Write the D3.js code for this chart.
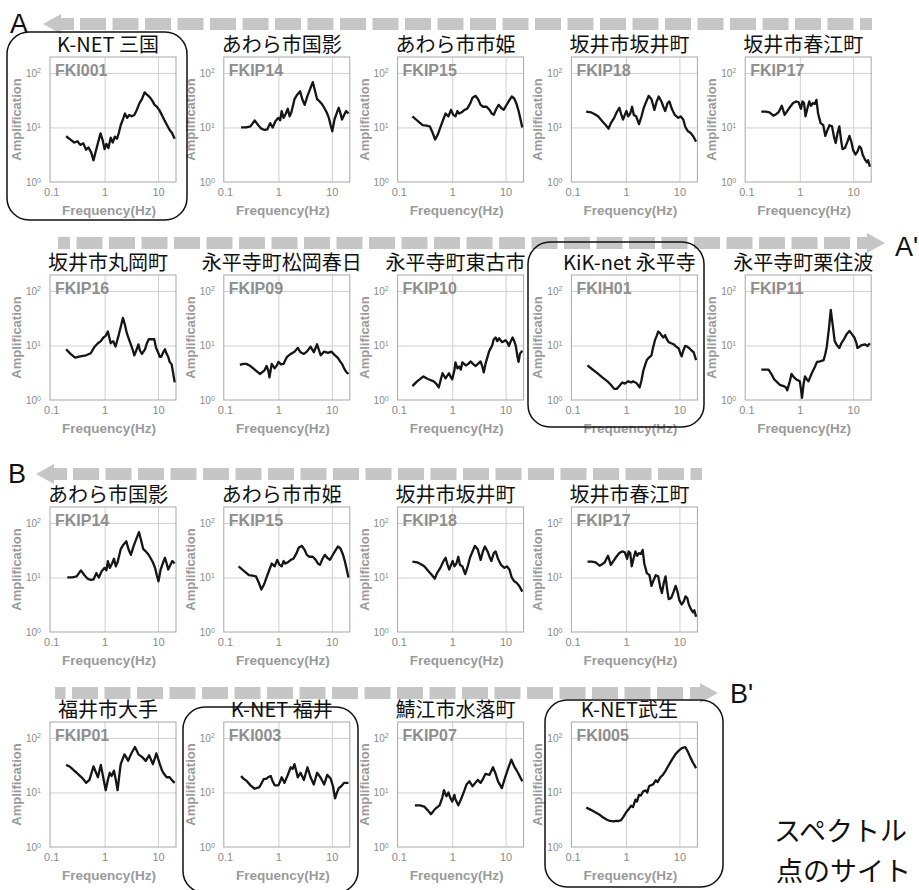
<html>
<head>
  <script src="https://d3js.org/d3.v7.min.js"></script>
  <style>
    body { margin: 0; background: #fff; }
    .grid line { stroke: #d0d0d0; }
    .grid .domain { display: none; }
    .lbl .domain { display: none; }
    .lbl text { fill: #8a8a8a; font-family: "Liberation Sans", Arial, sans-serif; }
  </style>
</head>
<body>
  <svg id="fig" width="919" height="890"></svg>
  <script>
    // tick values
    const freqTicks = [0.1, 1, 10];
    const ampTicks = [1, 10, 100];

    // site names and station codes, one list per row
    const row1Titles = ["K-NET 三国", "あわら市国影", "あわら市市姫", "坂井市坂井町", "坂井市春江町"];
    const row1Ids = ["FKI001", "FKIP14", "FKIP15", "FKIP18", "FKIP17"];
    const row2Titles = ["坂井市丸岡町", "永平寺町松岡春日", "永平寺町東古市", "KiK-net 永平寺", "永平寺町栗住波"];
    const row2Ids = ["FKIP16", "FKIP09", "FKIP10", "FKIH01", "FKIP11"];
    const row3Titles = ["あわら市国影", "あわら市市姫", "坂井市坂井町", "坂井市春江町"];
    const row3Ids = ["FKIP14", "FKIP15", "FKIP18", "FKIP17"];
    const row4Titles = ["福井市大手", "K-NET 福井", "鯖江市水落町", "K-NET武生"];
    const row4Ids = ["FKIP01", "FKI003", "FKIP07", "FKI005"];

    // amplification curves [frequency Hz, amplification]
    const FKI001 = [[0.19,6.9],[0.23,6.0],[0.27,5.3],[0.31,5.6],[0.35,4.8],[0.4,5.1],[0.45,3.9],[0.5,4.3],[0.56,3.5],[0.62,2.5],[0.68,3.6],[0.75,5.2],[0.84,7.8],[0.92,5.8],[1.0,4.0],[1.08,5.0],[1.18,4.2],[1.3,6.5],[1.42,5.3],[1.55,6.8],[1.7,6.2],[1.85,8.0],[2.0,11],[2.2,14],[2.4,18],[2.65,15],[2.9,17],[3.2,16],[3.6,17],[4.0,21],[4.5,28],[5.0,33],[5.6,44],[6.2,40],[7.0,36],[7.8,31],[8.6,26],[9.5,24],[10.5,21],[11.8,17],[13.2,13.5],[14.8,11],[16.5,9],[18.2,8],[20.5,6.2]];
    const FKIP14 = [[0.2,10],[0.25,10],[0.3,10.5],[0.36,13.5],[0.42,11],[0.48,9.5],[0.55,9],[0.62,9.2],[0.7,12],[0.78,10],[0.88,13],[1.0,15],[1.08,13.5],[1.15,20],[1.25,15],[1.38,18],[1.5,22],[1.62,16],[1.75,19],[2.0,33],[2.25,40],[2.55,46],[2.8,33],[3.1,26],[3.5,38],[3.9,50],[4.4,68],[4.9,45],[5.3,33],[5.9,30],[6.5,27],[7.2,23],[8.0,19],[8.8,15],[9.5,11],[10.2,8.5],[11.2,14],[12.5,19],[13.5,23],[14.5,18],[15.5,14],[17,17],[18.5,20],[20.5,18]];
    const FKIP15 = [[0.18,16],[0.21,14],[0.24,12.5],[0.28,11],[0.33,10.8],[0.38,10.5],[0.43,8],[0.48,6],[0.54,7.5],[0.6,10],[0.68,14],[0.75,18],[0.85,16],[0.95,21],[1.05,17],[1.15,16],[1.25,20],[1.35,18],[1.5,19],[1.7,21],[1.9,22],[2.15,27],[2.4,35],[2.75,38],[3.1,32],[3.4,26],[3.8,24],[4.4,24],[5.0,21],[5.5,18],[6.0,17],[6.7,22],[7.4,26],[8.2,23],[9.2,21],[10.2,25],[11.4,30],[13,37],[14.5,34],[16,27],[17.5,20],[19,14],[20.5,10]];
    const FKIP18 = [[0.18,19.5],[0.22,19],[0.26,17.5],[0.3,16],[0.36,13],[0.42,11],[0.47,9.5],[0.52,12],[0.6,15],[0.67,19],[0.75,23],[0.82,17],[0.88,14],[0.95,17],[1.02,20],[1.1,16],[1.2,18],[1.3,24],[1.4,17],[1.55,16],[1.75,11.5],[1.95,16],[2.15,23],[2.4,30],[2.65,38],[3.0,33],[3.4,21],[3.75,30],[4.1,37],[4.6,30],[5.0,24],[5.4,20],[6.0,28],[6.5,30],[7.2,22],[8.2,17],[9.5,15],[10.5,16],[11.8,14],[13,10],[14.5,8.5],[16,8],[18,7],[20.5,5.5]];
    const FKIP17 = [[0.19,19.5],[0.23,19.5],[0.27,19],[0.32,16.5],[0.36,17.5],[0.4,19],[0.46,25],[0.52,17],[0.58,20],[0.66,24],[0.75,28],[0.85,30],[0.95,29],[1.05,22],[1.12,30],[1.2,28],[1.28,16],[1.38,22],[1.5,30],[1.62,25],[1.75,28],[1.9,27],[2.05,32],[2.2,18],[2.45,12],[2.75,11],[3.0,7],[3.3,9],[3.6,11],[4.0,10.5],[4.4,6.5],[4.7,5.2],[5.1,8],[5.5,10.5],[5.9,6],[6.3,4],[7.0,4.2],[7.8,5.5],[8.5,7],[9.2,5.5],[10,3.8],[11,3.2],[12,3.6],[13,4.5],[14,4.2],[15,3.2],[16.5,2.6],[18,2.3],[19,2.5],[20.5,1.9]];
    const FKIP16 = [[0.19,8.5],[0.23,7],[0.28,6],[0.35,6.3],[0.45,6.6],[0.55,7.2],[0.65,9.5],[0.75,11],[0.85,12],[0.95,14],[1.05,15],[1.15,18],[1.3,11],[1.45,12],[1.6,9.5],[1.85,16],[2.05,24],[2.2,32],[2.4,24],[2.6,17],[2.85,13],[3.1,10.5],[3.4,8],[3.6,6.6],[3.9,8],[4.3,10.5],[4.6,8],[5.0,7],[5.7,8.5],[6.2,11],[6.7,13],[7.5,13],[8.5,13],[9.2,9],[10,7.5],[10.8,6.2],[11.5,6.2],[12.5,7.5],[13.5,8.5],[14.5,7],[15.5,6.2],[16.5,5],[18,4.5],[19,3.3],[20.5,2.1]];
    const FKIP09 = [[0.19,4.4],[0.22,4.6],[0.25,4.6],[0.3,4.2],[0.36,3.6],[0.45,3.0],[0.55,3.5],[0.6,4.2],[0.65,3.4],[0.68,2.6],[0.75,4.6],[0.85,3.8],[0.95,4.4],[1.0,5],[1.12,4.5],[1.25,4.6],[1.45,6.2],[1.7,7],[2.0,7.7],[2.3,9],[2.6,7.5],[3.0,7],[3.4,7.7],[4.0,9.5],[4.6,7.5],[5.3,10.5],[5.8,8],[6.2,6.6],[7.2,7.7],[8.5,7.3],[9.8,7.7],[11.5,6.6],[13,5.9],[14.5,5],[15.5,4.6],[17,3.8],[18.5,3.3],[20.5,3.0]];
    const FKIP10 = [[0.18,1.8],[0.22,2.2],[0.26,2.5],[0.29,2.7],[0.33,2.5],[0.36,2.4],[0.45,2.2],[0.5,2.0],[0.56,1.7],[0.62,2.5],[0.66,3.1],[0.75,2.5],[0.87,3.1],[0.95,2.6],[1.0,2.4],[1.1,3.5],[1.15,4.9],[1.25,3.8],[1.35,4.1],[1.45,3.6],[1.55,4.9],[1.8,4.3],[2.0,4.6],[2.2,5.1],[2.5,4.5],[2.75,4.2],[3.1,4.7],[3.4,5.1],[3.7,4.0],[3.9,3.2],[4.2,4.6],[4.5,5.8],[4.9,7.8],[5.6,10],[6.0,13],[6.5,14],[7.0,12],[7.5,13.5],[8.6,11.5],[9.3,12],[10,12.5],[11,11],[11.5,9.8],[12.5,12],[13.5,14],[14.5,12],[15.5,9.8],[16.5,6.5],[17.5,5],[18.5,7],[20.5,8]];
    const FKIH01 = [[0.19,4.3],[0.23,3.7],[0.29,3.1],[0.36,2.6],[0.45,2.2],[0.52,1.9],[0.6,1.6],[0.67,1.6],[0.75,1.8],[0.85,2.1],[0.95,2.0],[1.1,2.2],[1.25,2.1],[1.35,2.2],[1.5,2.1],[1.6,2.0],[1.8,1.7],[1.95,2.3],[2.1,3.4],[2.3,4.5],[2.45,5.4],[2.7,6.0],[3.0,6.6],[3.2,9],[3.5,12.7],[3.75,15],[4.0,18],[4.3,17],[4.7,15],[5.0,14],[5.4,15.5],[5.8,13],[6.3,11.5],[7.0,11],[7.8,10.5],[8.7,9.5],[9.7,8.8],[10.5,7],[11,6.3],[11.8,8],[12.8,9.8],[14,9.5],[15.5,8.8],[17,8],[18.5,7.5],[20.5,5.4]];
    const FKIP11 = [[0.19,3.6],[0.22,3.6],[0.26,3.6],[0.3,2.9],[0.33,2.4],[0.38,2.1],[0.42,1.9],[0.5,1.8],[0.55,1.7],[0.58,1.5],[0.65,2.2],[0.7,3.0],[0.78,2.6],[0.85,2.4],[1.0,2.2],[1.05,1.6],[1.1,1.1],[1.18,2.0],[1.25,2.7],[1.35,2.4],[1.45,2.2],[1.7,3.2],[1.9,4.0],[2.1,5.0],[2.4,5.1],[2.8,5.4],[3.0,7],[3.2,9.5],[3.5,20],[3.8,45],[4.1,25],[4.5,12],[5.0,10],[5.5,9],[6.0,11],[6.7,13],[7.5,16],[8.5,18.5],[9.5,16],[10.5,14],[11.5,11],[12,9],[13,9.5],[14,10],[16.5,10.5],[18.5,9.8],[20.5,11]];
    const FKIP01 = [[0.19,32],[0.22,30],[0.24,28],[0.27,25],[0.3,23],[0.33,21],[0.37,19],[0.41,17],[0.45,15],[0.52,17],[0.57,23],[0.62,30],[0.68,24],[0.75,19],[0.8,25],[0.85,32],[0.95,18],[1.05,11],[1.15,17],[1.25,23],[1.35,20],[1.5,25],[1.62,17],[1.75,11],[1.9,22],[2.0,33],[2.2,42],[2.35,50],[2.55,44],[2.75,38],[3.0,46],[3.2,53],[3.5,62],[3.7,68],[4.0,58],[4.3,50],[5.0,45],[5.9,38],[6.8,48],[7.4,40],[8,33],[8.7,42],[9.3,52],[10,42],[10.8,33],[11.6,27],[12.5,23],[14.5,19],[16.5,19],[18,17],[20.5,15]];
    const FKI003 = [[0.2,20],[0.22,18],[0.25,16.5],[0.3,13.5],[0.36,11.7],[0.44,12.5],[0.53,17.5],[0.6,18],[0.64,19],[0.72,20],[0.78,16],[0.85,13.5],[1.0,13.5],[1.08,16],[1.15,19],[1.3,15],[1.5,21],[1.7,29],[1.85,27],[2.0,33],[2.15,25],[2.3,19],[2.6,23],[3.0,17],[3.5,29],[4.0,19],[4.6,14],[5.3,23],[6.1,19],[7.2,14],[8.2,21],[9.5,18],[10.5,13],[11.5,7.8],[12.5,10],[13.5,12],[15,13],[17,15],[20.5,15]];
    const FKIP07 = [[0.2,5.8],[0.25,5.8],[0.3,5.5],[0.35,4.7],[0.4,4.0],[0.48,5],[0.58,5.8],[0.65,8],[0.7,11],[0.78,8.5],[0.85,10],[0.92,8],[1.0,6.8],[1.1,9],[1.15,7.5],[1.3,5.8],[1.5,8],[1.7,11],[1.85,14],[2.1,16],[2.4,13],[2.7,15],[3.0,17],[3.4,15],[3.8,18],[4.2,22],[5.0,21],[5.8,29],[6.5,22],[7.2,16],[8.5,12],[9.8,19],[11.5,30],[12.8,40],[14.5,30],[17,23],[20.5,16]];
    const FKI005 = [[0.18,5.3],[0.22,4.8],[0.27,4.3],[0.32,3.9],[0.37,3.5],[0.43,3.2],[0.5,3.0],[0.58,2.95],[0.65,3.0],[0.73,3.0],[0.81,3.1],[0.9,3.6],[1.0,4.3],[1.1,4.8],[1.24,5.7],[1.35,5.4],[1.5,7.4],[1.6,6.8],[1.75,9],[1.9,8.8],[2.1,10.5],[2.35,10.9],[2.5,10],[2.7,13],[2.9,13.5],[3.2,14],[3.6,16.7],[3.9,15.5],[4.4,19],[4.9,21],[5.5,25],[6.1,30],[6.8,36],[7.5,42],[8.4,50],[9.3,56],[10.4,62],[11.5,66],[12.9,68],[14.5,55],[16,44],[18,35],[20.5,28]];

    const curves = { FKI001, FKIP14, FKIP15, FKIP18, FKIP17, FKIP16, FKIP09, FKIP10, FKIH01, FKIP11, FKIP01, FKI003, FKIP07, FKI005 };

    const rows = [
      { titles: row1Titles, ids: row1Ids },
      { titles: row2Titles, ids: row2Ids },
      { titles: row3Titles, ids: row3Ids },
      { titles: row4Titles, ids: row4Ids }
    ];

    // layout
    const W = 126, H = 125;
    const rowTop = [57, 275, 507, 722];
    const colLeft = i => 50 + i * 173.8;
    const arrowGray = "#c6c6c6";
    const jp = '"Noto Sans CJK JP", sans-serif';
    const latin = '"Liberation Sans", Arial, sans-serif';

    const x = d3.scaleLog().domain([0.095, 21.7]).range([0, W]);
    const y = d3.scaleLog().domain([1, 196]).range([H, 0]);
    const line = d3.line().x(d => x(d[0])).y(d => y(d[1]));

    const svg = d3.select("svg#fig");

    // section arrows
    function arrowLeft(tipX, endX, cy) {
      svg.append("path")
        .attr("d", `M${tipX},${cy} L${tipX + 18},${cy - 10} L${tipX + 18},${cy - 6} L${tipX + 31},${cy - 6} L${tipX + 31},${cy + 6} L${tipX + 18},${cy + 6} L${tipX + 18},${cy + 10} Z`)
        .attr("fill", arrowGray);
      svg.append("line")
        .attr("x1", tipX + 37).attr("x2", endX).attr("y1", cy).attr("y2", cy)
        .attr("stroke", arrowGray).attr("stroke-width", 12).attr("stroke-dasharray", "26 6.5");
    }
    function arrowRight(startX, tipX, cy) {
      svg.append("path")
        .attr("d", `M${tipX},${cy} L${tipX - 18},${cy - 10} L${tipX - 18},${cy - 6} L${tipX - 28},${cy - 6} L${tipX - 28},${cy + 6} L${tipX - 18},${cy + 6} L${tipX - 18},${cy + 10} Z`)
        .attr("fill", arrowGray);
      svg.append("line")
        .attr("x1", tipX - 35).attr("x2", startX).attr("y1", cy).attr("y2", cy)
        .attr("stroke", arrowGray).attr("stroke-width", 12).attr("stroke-dasharray", "26 6.5");
    }
    arrowLeft(43, 872, 24);
    arrowRight(58, 885, 243);
    arrowLeft(36, 702, 474);
    arrowRight(55, 718, 693);

    const letters = [["A", 10, 33], ["A'", 895, 256], ["B", 8, 483], ["B'", 730, 703]];
    letters.forEach(l => {
      svg.append("text").attr("x", l[1]).attr("y", l[2]).text(l[0])
        .attr("font-family", latin).attr("font-size", 27).attr("fill", "#111");
    });

    // panels
    rows.forEach((row, r) => {
      row.ids.forEach((id, c) => {
        const g = svg.append("g").attr("transform", `translate(${colLeft(c)},${rowTop[r]})`);

        g.append("g").attr("class", "grid")
          .call(d3.axisBottom(x).tickValues([1, 10]).tickSize(H).tickFormat(""));
        g.append("g").attr("class", "grid")
          .call(d3.axisLeft(y).tickValues([10, 100]).tickSize(-W).tickFormat(""));

        g.append("rect").attr("width", W).attr("height", H)
          .attr("fill", "none").attr("stroke", "#a8a8a8");

        g.append("text").attr("x", 5).attr("y", 19).text(id)
          .attr("font-family", latin).attr("font-size", 16).attr("font-weight", "bold").attr("fill", "#8e8e8e");

        g.append("path").datum(curves[id]).attr("d", line)
          .attr("fill", "none").attr("stroke", "#151515").attr("stroke-width", 2.3)
          .attr("stroke-linejoin", "round");

        const xa = g.append("g").attr("class", "lbl").attr("transform", `translate(0,${H})`)
          .call(d3.axisBottom(x).tickValues(freqTicks).tickSize(0).tickPadding(6).tickFormat(d3.format("~g")));
        xa.selectAll("text").attr("font-size", 11);

        const ya = g.append("g").attr("class", "lbl")
          .call(d3.axisLeft(y).tickValues(ampTicks).tickSize(0).tickPadding(9).tickFormat(""));
        ya.selectAll("text").attr("font-size", 10).each(function (d) {
          const t = d3.select(this);
          t.append("tspan").text("10");
          t.append("tspan").attr("dy", "-0.45em").attr("font-size", 7).text(Math.round(Math.log10(d)));
        });

        g.append("text").attr("transform", `translate(-29,${H / 2}) rotate(-90)`)
          .attr("text-anchor", "middle").text("Amplification")
          .attr("font-family", latin).attr("font-size", 13).attr("font-weight", "bold").attr("fill", "#9a9a9a");

        g.append("text").attr("x", W / 2 - 4).attr("y", H + 33)
          .attr("text-anchor", "middle").text("Frequency(Hz)")
          .attr("font-family", latin).attr("font-size", 13.5).attr("font-weight", "bold").attr("fill", "#9a9a9a");

        g.append("text").attr("x", W / 2 - 5).attr("y", -5)
          .attr("text-anchor", "middle").text(row.titles[c])
          .attr("font-family", jp).attr("font-size", 20).attr("fill", "#111");
      });
    });

    // highlighted observation stations
    const boxes = [[7, 32, 180, 188], [528, 242, 176, 185], [183, 707, 175, 186], [545, 700, 178, 187]];
    boxes.forEach(b => {
      svg.append("rect").attr("x", b[0]).attr("y", b[1]).attr("width", b[2]).attr("height", b[3])
        .attr("rx", 22).attr("fill", "none").attr("stroke", "#111").attr("stroke-width", 1.5);
    });

    // caption, only the part visible in the frame
    svg.append("text").attr("x", 774).attr("y", 841).text("スペクトル")
      .attr("font-family", jp).attr("font-size", 27).attr("fill", "#111");
    svg.append("text").attr("x", 776).attr("y", 881).text("点のサイト")
      .attr("font-family", jp).attr("font-size", 27).attr("fill", "#111");
  </script>
</body>
</html>
